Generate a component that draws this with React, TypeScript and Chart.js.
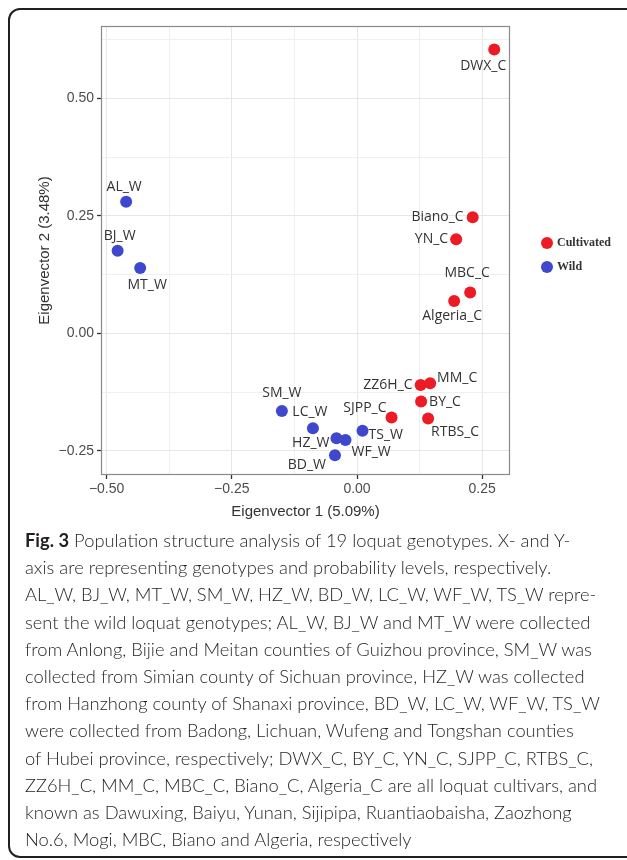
import React, { useEffect, useLayoutEffect, useRef } from 'react';
import { Chart, registerables } from 'chart.js';

Chart.register(...registerables);

// ---------- data ----------
const CULTIVATED_NAMES = ['DWX_C', 'Biano_C', 'YN_C', 'MBC_C', 'Algeria_C', 'MM_C', 'ZZ6H_C', 'BY_C', 'RTBS_C', 'SJPP_C'];
const CULTIVATED_X = [0.274, 0.231, 0.198, 0.226, 0.194, 0.146, 0.127, 0.128, 0.142, 0.069];
const CULTIVATED_Y = [0.604, 0.247, 0.200, 0.087, 0.069, -0.106, -0.110, -0.145, -0.181, -0.179];

const WILD_NAMES = ['AL_W', 'BJ_W', 'MT_W', 'SM_W', 'LC_W', 'HZ_W', 'WF_W', 'BD_W', 'TS_W'];
const WILD_X = [-0.461, -0.478, -0.433, -0.150, -0.088, -0.041, -0.023, -0.044, 0.011];
const WILD_Y = [0.280, 0.176, 0.139, -0.165, -0.202, -0.223, -0.227, -0.259, -0.207];

const SERIES_LABELS = ['Cultivated', 'Wild'];

const X_TICKS = [-0.5, -0.25, 0, 0.25];
const Y_TICKS = [-0.25, 0, 0.25, 0.5];
const X_GRID = [-0.5, -0.375, -0.25, -0.125, 0, 0.125, 0.25];
const Y_GRID = [-0.25, -0.125, 0, 0.125, 0.25, 0.375, 0.5, 0.625];
const X_RANGE = [-0.5112, 0.3055];
const Y_RANGE = [-0.3012, 0.6538];

const X_TITLE = 'Eigenvector 1 (5.09%)';
const Y_TITLE = 'Eigenvector 2 (3.48%)';

const CAPTION_BOLD = 'Fig. 3';
const CAPTION_LINES = [
  ' Population structure analysis of 19 loquat genotypes. X- and Y-',
  'axis are representing genotypes and probability levels, respectively.',
  'AL_W, BJ_W, MT_W, SM_W, HZ_W, BD_W, LC_W, WF_W, TS_W repre-',
  'sent the wild loquat genotypes; AL_W, BJ_W and MT_W were collected',
  'from Anlong, Bijie and Meitan counties of Guizhou province, SM_W was',
  'collected from Simian county of Sichuan province, HZ_W was collected',
  'from Hanzhong county of Shanaxi province, BD_W, LC_W, WF_W, TS_W',
  'were collected from Badong, Lichuan, Wufeng and Tongshan counties',
  'of Hubei province, respectively; DWX_C, BY_C, YN_C, SJPP_C, RTBS_C,',
  'ZZ6H_C, MM_C, MBC_C, Biano_C, Algeria_C are all loquat cultivars, and',
  'known as Dawuxing, Baiyu, Yunan, Sijipipa, Ruantiaobaisha, Zaozhong',
  'No.6, Mogi, MBC, Biano and Algeria, respectively',
];

// ---------- label placement (pixel offsets from point, text alignment) ----------
const LABEL_PLACE: Record<string, [number, number, CanvasTextAlign]> = {
  DWX_C: [-11, 17, 'center'],
  Biano_C: [-9, 0, 'right'],
  YN_C: [-8, 0, 'right'],
  MBC_C: [-3, -19, 'center'],
  Algeria_C: [-2, 15, 'center'],
  MM_C: [7, -5, 'left'],
  ZZ6H_C: [-8, 0, 'right'],
  BY_C: [8, 0, 'left'],
  RTBS_C: [3, 14, 'left'],
  SJPP_C: [-5, -10, 'right'],
  AL_W: [-2, -15, 'center'],
  BJ_W: [2, -15, 'center'],
  MT_W: [7, 17, 'center'],
  SM_W: [0, -18, 'center'],
  LC_W: [-3, -16, 'center'],
  HZ_W: [-7, 5, 'right'],
  WF_W: [6, 12, 'left'],
  BD_W: [-9, 10, 'right'],
  TS_W: [6, 4, 'left'],
};

const RED = '#ED1C24';
const BLUE = '#3F48CC';
const CAPTION_TARGET_WIDTH = 575; // width of reference line index 6

const fmt = (v: number) => (v < 0 ? '\u2212' : '') + Math.abs(v).toFixed(2);
const isIn = (arr: number[], v: number) => arr.some((a) => Math.abs(a - v) < 1e-9);

const pointLabels = {
  id: 'pointLabels',
  afterDatasetsDraw(chart: any) {
    const { ctx } = chart;
    ctx.save();
    ctx.font = '14px "Open Sans", "Noto Sans", sans-serif';
    ctx.fillStyle = '#333333';
    ctx.textBaseline = 'middle';
    chart.data.datasets.forEach((ds: any, di: number) => {
      const meta = chart.getDatasetMeta(di);
      meta.data.forEach((el: any, i: number) => {
        const name = ds.data[i].name;
        const p = LABEL_PLACE[name] || [0, -14, 'center'];
        ctx.textAlign = p[2];
        ctx.fillText(name, el.x + p[0], el.y + p[1]);
      });
    });
    ctx.restore();
  },
};

const panelBorder = {
  id: 'panelBorder',
  beforeDatasetsDraw(chart: any) {
    const { ctx, chartArea: a } = chart;
    ctx.save();
    ctx.strokeStyle = '#8a8a8a';
    ctx.lineWidth = 1.2;
    ctx.strokeRect(a.left + 0.5, a.top + 0.5, a.right - a.left - 1, a.bottom - a.top - 1);
    ctx.restore();
  },
};

const sideLegend = {
  id: 'sideLegend',
  afterDraw(chart: any) {
    const { ctx, chartArea: a } = chart;
    const cy = (a.top + a.bottom) / 2 + 4.5;
    ctx.save();
    ctx.font = 'bold 12px "Liberation Serif", "Times New Roman", serif';
    ctx.textBaseline = 'middle';
    ctx.textAlign = 'left';
    chart.data.datasets.forEach((ds: any, i: number) => {
      const y = cy - 12 + i * 24;
      const x = a.right + 37;
      ctx.beginPath();
      ctx.fillStyle = ds.backgroundColor;
      ctx.arc(x, y, 6, 0, Math.PI * 2);
      ctx.fill();
      ctx.fillStyle = '#333333';
      ctx.fillText(ds.label, x + 10, y);
    });
    ctx.restore();
  },
};

export default function App() {
  const canvasRef = useRef<HTMLCanvasElement>(null);
  const capRef = useRef<HTMLDivElement>(null);
  const measureRef = useRef<HTMLDivElement>(null);

  useEffect(() => {
    const canvas = canvasRef.current;
    if (!canvas) return;
    const tickFont = { family: '"Liberation Sans", Arial, sans-serif', size: 14 };
    const chart = new Chart(canvas, {
      type: 'scatter',
      data: {
        datasets: [
          {
            label: SERIES_LABELS[0],
            data: CULTIVATED_X.map((x, i) => ({ x, y: CULTIVATED_Y[i], name: CULTIVATED_NAMES[i] })),
            backgroundColor: RED,
            borderWidth: 0,
            pointRadius: 6,
          },
          {
            label: SERIES_LABELS[1],
            data: WILD_X.map((x, i) => ({ x, y: WILD_Y[i], name: WILD_NAMES[i] })),
            backgroundColor: BLUE,
            borderWidth: 0,
            pointRadius: 6,
          },
        ],
      } as any,
      options: {
        animation: false,
        responsive: false,
        devicePixelRatio: 1,
        layout: { padding: { top: 26, right: 117, left: 0, bottom: 0 } },
        plugins: { legend: { display: false }, tooltip: { enabled: false } },
        scales: {
          x: {
            type: 'linear',
            min: X_RANGE[0],
            max: X_RANGE[1],
            afterBuildTicks: (s: any) => {
              s.ticks = X_GRID.map((v) => ({ value: v }));
            },
            afterFit: (s: any) => {
              s.height = 55;
            },
            ticks: {
              autoSkip: false,
              maxRotation: 0,
              padding: 2,
              color: '#4d4d4d',
              font: tickFont,
              callback: (v: any) => (isIn(X_TICKS, Number(v)) ? fmt(Number(v)) : ''),
            },
            grid: {
              color: (c: any) => (isIn(X_TICKS, c.tick?.value) ? '#e6e6e6' : '#efefef'),
              lineWidth: 1,
              tickLength: 4,
              tickColor: (c: any) => (isIn(X_TICKS, c.tick?.value) ? '#333333' : 'rgba(0,0,0,0)'),
              tickWidth: 1.3,
            },
            border: { display: false },
            title: {
              display: true,
              text: X_TITLE,
              color: '#333333',
              font: { family: '"Liberation Sans", Arial, sans-serif', size: 15 },
              padding: { top: 0, bottom: 9 },
            },
          },
          y: {
            type: 'linear',
            min: Y_RANGE[0],
            max: Y_RANGE[1],
            afterBuildTicks: (s: any) => {
              s.ticks = Y_GRID.map((v) => ({ value: v }));
            },
            afterFit: (s: any) => {
              s.width = 101;
            },
            ticks: {
              autoSkip: false,
              padding: 3,
              color: '#4d4d4d',
              font: tickFont,
              callback: (v: any) => (isIn(Y_TICKS, Number(v)) ? fmt(Number(v)) : ''),
            },
            grid: {
              color: (c: any) => (isIn(Y_TICKS, c.tick?.value) ? '#e6e6e6' : '#efefef'),
              lineWidth: 1,
              tickLength: 4,
              tickColor: (c: any) => (isIn(Y_TICKS, c.tick?.value) ? '#333333' : 'rgba(0,0,0,0)'),
              tickWidth: 1.3,
            },
            border: { display: false },
            title: {
              display: true,
              text: Y_TITLE,
              color: '#333333',
              font: { family: '"Liberation Sans", Arial, sans-serif', size: 15 },
              padding: { top: 36, bottom: 0 },
            },
          },
        },
      } as any,
      plugins: [panelBorder, pointLabels, sideLegend],
    });
    return () => chart.destroy();
  }, []);

  useLayoutEffect(() => {
    const m = measureRef.current;
    const cap = capRef.current;
    if (!m || !cap) return;
    const w = m.getBoundingClientRect().width;
    if (w > 0) cap.style.fontSize = (20 * CAPTION_TARGET_WIDTH) / w + 'px';
  }, []);

  const captionFont = '"Lato", "Open Sans", sans-serif';

  return (
    <div style={{ position: 'fixed', left: 0, top: 0, width: 627, height: 860, overflow: 'hidden', background: '#fff' }}>
      <div
        style={{
          position: 'absolute',
          left: 8,
          top: 8,
          width: 660,
          height: 850,
          border: '2px solid #231f20',
          borderRadius: 12,
          boxSizing: 'border-box',
        }}
      />
      <canvas
        ref={canvasRef}
        width={627}
        height={530}
        style={{ position: 'absolute', left: 0, top: 0, width: 627, height: 530 }}
      />
      <div
        ref={measureRef}
        style={{
          position: 'absolute',
          visibility: 'hidden',
          whiteSpace: 'nowrap',
          fontFamily: captionFont,
          fontWeight: 300,
          fontSize: 20,
          left: 0,
          top: 0,
        }}
      >
        {CAPTION_LINES[6]}
      </div>
      <div
        ref={capRef}
        style={{
          position: 'absolute',
          left: 25,
          top: 527,
          width: 620,
          fontFamily: captionFont,
          fontWeight: 300,
          fontSize: 19,
          lineHeight: '27.2px',
          color: '#231f20',
          whiteSpace: 'nowrap',
        }}
      >
        {CAPTION_LINES.map((line, i) => (
          <div key={i}>
            {i === 0 ? <b style={{ fontWeight: 700 }}>{CAPTION_BOLD}</b> : null}
            {line}
          </div>
        ))}
      </div>
    </div>
  );
}
